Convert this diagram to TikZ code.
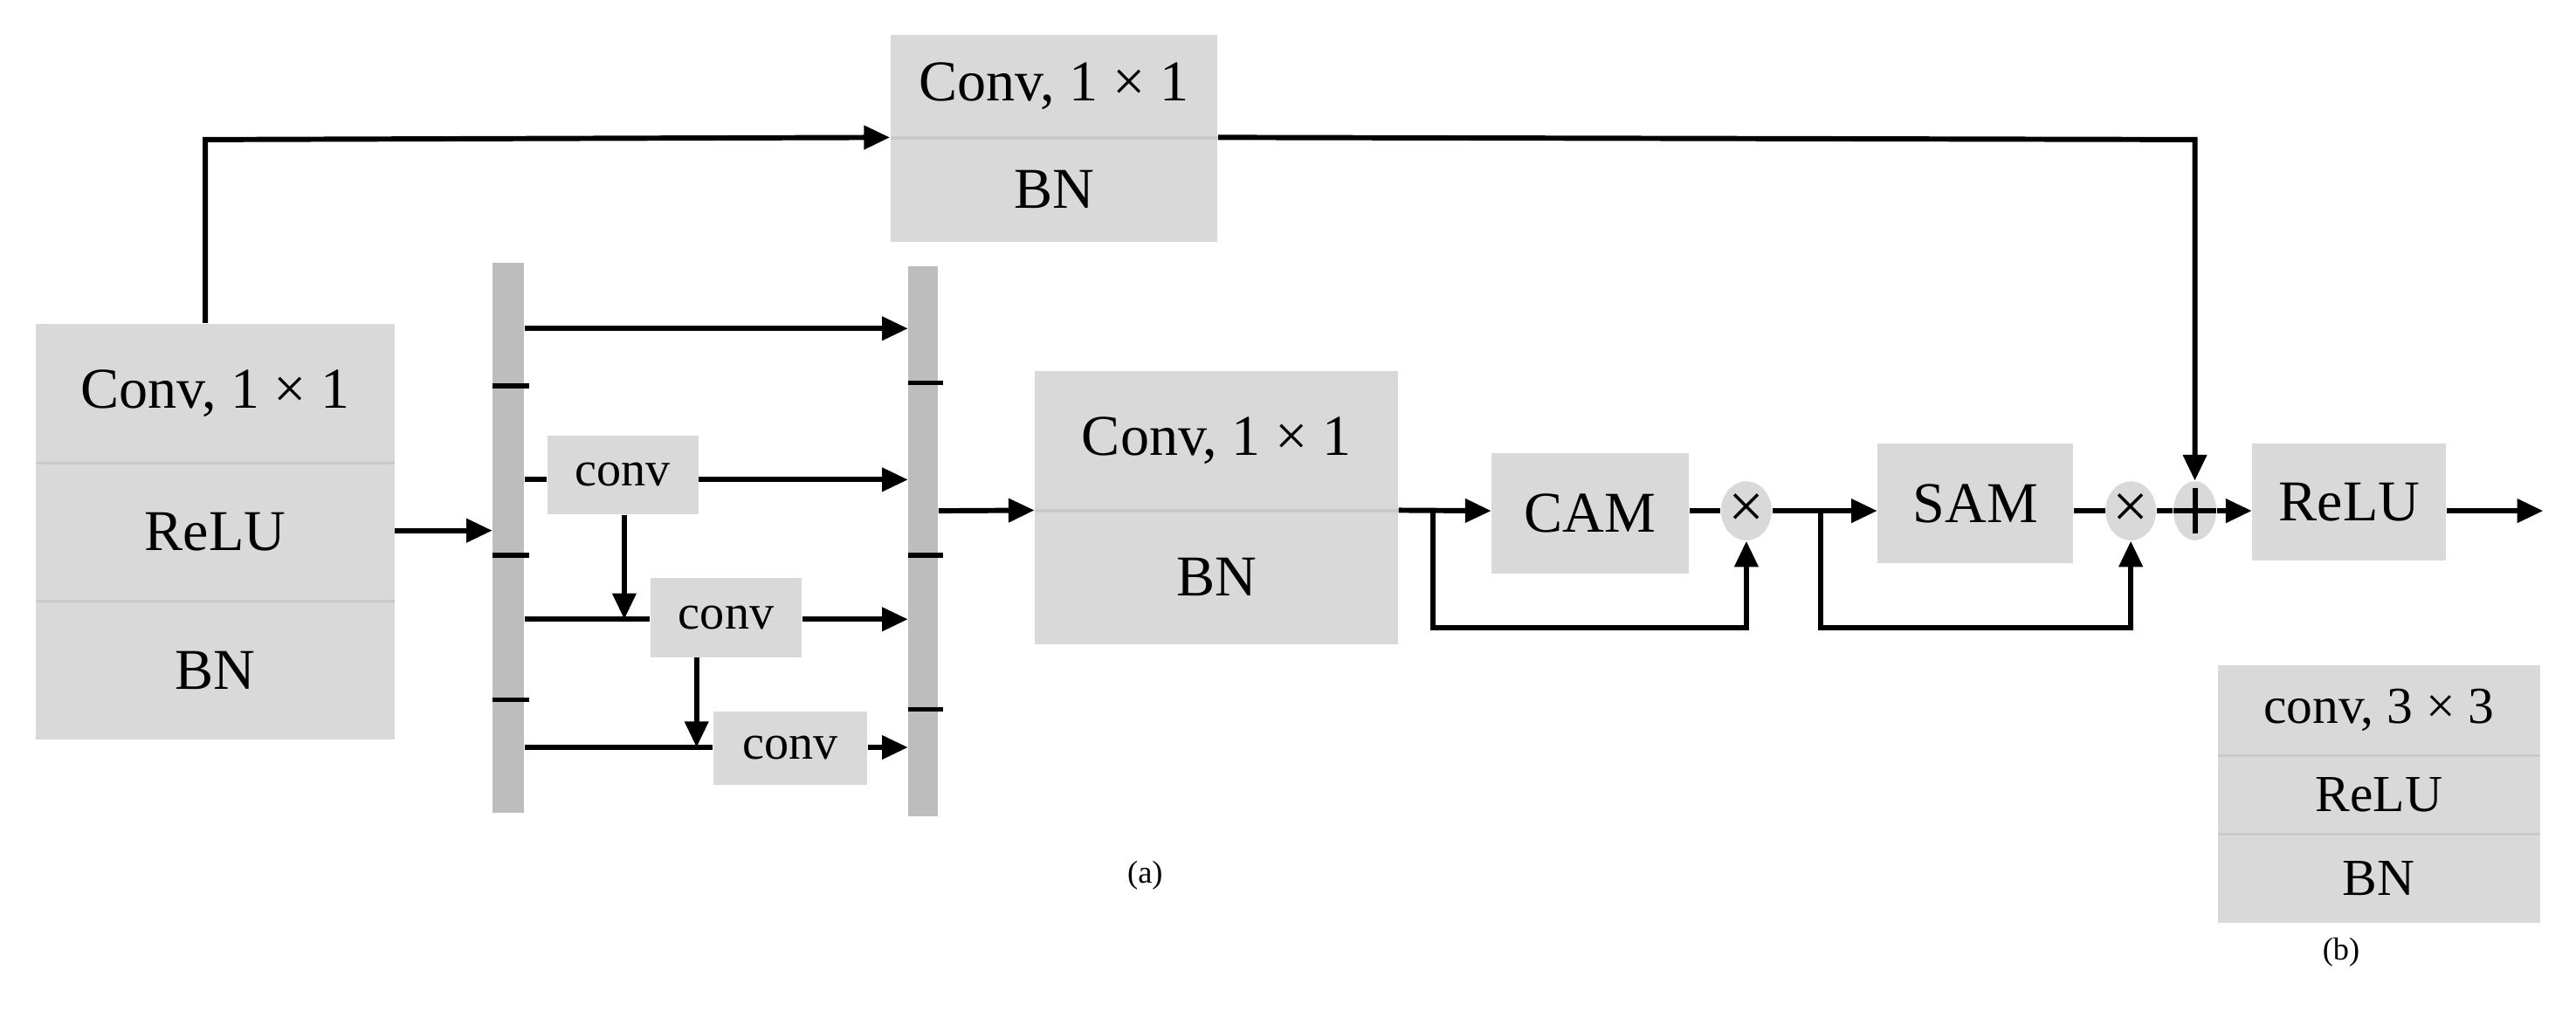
\documentclass[tikz,border=0pt]{standalone}
\usepackage{fontspec}
\setmainfont{Liberation Serif}
\usetikzlibrary{shapes.geometric,arrows.meta}
\definecolor{boxgray}{HTML}{D9D9D9}
\definecolor{bargray}{HTML}{BDBDBD}
\definecolor{divgray}{HTML}{C9C9C9}
\newcommand{\cell}[6]{\node[cell,minimum width={(#4-#2)*0.02cm},minimum height={(#5-#3)*0.02cm}] (#1) at ({(#2+#4)/2},{(#3+#5)/2}) {#6};}
\begin{document}
\begin{tikzpicture}[x=0.02cm,y=-0.02cm,
  cell/.style={fill=boxgray,draw=none,inner sep=0pt,font=\fontsize{20}{24}\selectfont},
  bar/.style={fill=bargray,draw=none,inner sep=0pt},
  ln/.style={line width=1.8pt},
  ar/.style={line width=1.8pt,-{Triangle[length=9pt,width=8pt]}},
  dv/.style={divgray,line width=1pt},
  tk/.style={black,line width=1.6pt},
  op/.style={ellipse,fill=boxgray,inner sep=0pt,minimum width=0.52cm,minimum height=0.72cm}]
\useasboundingbox (0,0) rectangle (1568,615);
% left stack
\cell{lc}{22}{197}{240}{282}{Conv, 1 × 1}
\cell{lr}{22}{282}{240}{366}{ReLU}
\cell{lb}{22}{366}{240}{450}{BN}
\draw[dv] (22,282) -- (240,282) (22,366) -- (240,366);
% top stack
\cell{tc}{542}{21}{741}{84}{Conv, 1 × 1}
\cell{tb}{542}{84}{741}{147}{BN}
\draw[dv] (542,84) -- (741,84);
% bars
\node[bar,minimum width=0.38cm,minimum height=6.7cm] (b1) at (309.5,327.5) {};
\node[bar,minimum width=0.36cm,minimum height=6.7cm] (b2) at (562,329.5) {};
\foreach \y in {235,338,426} \draw[tk] (300,\y) -- (322,\y);
\foreach \y in {233,338,432} \draw[tk] (553,\y) -- (574,\y);
% conv boxes
\begin{scope}[cell/.append style={font=\fontsize{17}{20}\selectfont}]
\cell{c1}{333}{265}{425}{313}{conv}
\cell{c2}{396}{352}{488}{400}{conv}
\cell{c3}{434}{433}{528}{478}{conv}
\end{scope}
% main conv
\cell{mc}{630}{226}{851}{311}{Conv, 1 × 1}
\cell{mb}{630}{311}{851}{392}{BN}
\draw[dv] (630,311) -- (851,311);
\cell{cam}{908}{276}{1028}{349}{CAM}
\cell{sam}{1143}{270}{1262}{343}{SAM}
\cell{relu}{1371}{270}{1489}{341}{ReLU}
\node[op] (m1) at (1063,311) {\fontsize{22}{22}\selectfont ×};
\node[op] (m2) at (1297,311) {\fontsize{22}{22}\selectfont ×};
\node[op] (pl) at (1336,311) {};
\draw[line width=1.8pt] (1323,311) -- (1349,311) (1336,297) -- (1336,325);
% (b) stack
\begin{scope}[cell/.append style={font=\fontsize{18}{22}\selectfont}]
\cell{bc}{1350}{405}{1546}{460}{conv, 3 × 3}
\cell{br}{1350}{460}{1546}{508}{ReLU}
\cell{bb}{1350}{508}{1546}{562}{BN}
\end{scope}
\draw[dv] (1350,460) -- (1546,460) (1350,508) -- (1546,508);
\node[font=\fontsize{11}{13}\selectfont] (la) at (697,533) {(a)};
\node[font=\fontsize{11}{13}\selectfont] (lbl) at (1425,580) {(b)};
% connectors
\coordinate (k1) at (125,85);
\draw[ar] (lc.north -| k1) -- (k1) -- (tb.north west);
\coordinate (k2) at (1336,85);
\draw[ar] (tb.north east) -- (k2) -- (pl.north);
\draw[ar] (240,323) -- (b1.west |- 0,323);
\draw[ar] (b1.east |- 0,200) -- (b2.west |- 0,200);
\draw[ln] (b1.east |- 0,292) -- (c1.west |- 0,292);
\draw[ar] (c1.east |- 0,292) -- (b2.west |- 0,292);
\coordinate (r3) at (380,377);
\draw[ln] (b1.east |- r3) -- (c2.west |- r3);
\draw[ar] (r3 |- c1.south) -- (r3);
\draw[ar] (c2.east |- r3) -- (b2.west |- r3);
\coordinate (r4) at (424,455);
\draw[ln] (b1.east |- r4) -- (c3.west |- r4);
\draw[ar] (r4 |- c2.south) -- (r4);
\draw[ar] (c3.east |- r4) -- (b2.west |- r4);
\draw[ar] (b2.east |- 0,311) -- (mb.north west);
\draw[ar] (mb.north east) -- (cam.west |- 0,311);
\coordinate (j1) at (872,311);
\draw[ar] (j1) -- (872,382) -- (1063,382) -- (m1.south);
\draw[ln] (cam.east |- 0,311) -- (m1.west);
\draw[ar] (m1.east) -- (sam.west |- 0,311);
\coordinate (j2) at (1108,311);
\draw[ar] (j2) -- (1108,382) -- (1297,382) -- (m2.south);
\draw[ln] (sam.east |- 0,311) -- (m2.west);
\draw[ln] (m2.east) -- (pl.west);
\draw[ar] (pl.east) -- (relu.west |- 0,311);
\coordinate (out) at (1548,311);
\draw[ar] (relu.east |- 0,311) -- (out);
\end{tikzpicture}
\end{document}
